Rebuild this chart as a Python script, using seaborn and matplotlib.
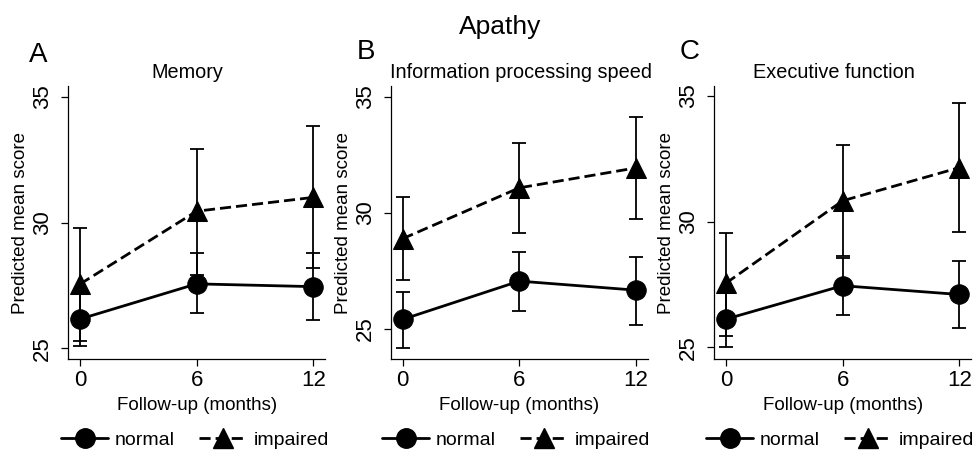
import matplotlib
matplotlib.use("Agg")
import matplotlib.pyplot as plt
import seaborn as sns
import pandas as pd
import numpy as np
from matplotlib.lines import Line2D

sns.set_theme(style="ticks")
plt.rcParams['font.family'] = ['Liberation Sans', 'DejaVu Sans']
plt.rcParams['text.color'] = 'black'
plt.rcParams['axes.labelcolor'] = 'black'
plt.rcParams['xtick.color'] = 'black'
plt.rcParams['ytick.color'] = 'black'

months = [0, 6, 12]
groups = ["normal", "impaired"]
panel_titles = ["Memory", "Information processing speed", "Executive function"]
panel_letters = ["A", "B", "C"]
main_title = "Apathy"
xlabel = "Follow-up (months)"
ylabel = "Predicted mean score"

# Memory
mem_normal = [26.16, 27.56, 27.45]
mem_normal_lo = [25.07, 26.39, 26.13]
mem_normal_hi = [27.25, 28.78, 28.78]
mem_impaired = [27.55, 30.45, 31.0]
mem_impaired_lo = [25.30, 27.92, 28.18]
mem_impaired_hi = [29.80, 32.93, 33.82]

# Information processing speed
ips_normal = [25.40, 27.05, 26.66]
ips_normal_lo = [24.18, 25.76, 25.16]
ips_normal_hi = [26.58, 28.32, 28.08]
ips_impaired = [28.88, 31.07, 31.93]
ips_impaired_lo = [27.08, 29.13, 29.73]
ips_impaired_hi = [30.67, 33.02, 34.13]

# Executive function
exe_normal = [26.12, 27.45, 27.10]
exe_normal_lo = [25.00, 26.29, 25.78]
exe_normal_hi = [27.25, 28.55, 28.42]
exe_impaired = [27.55, 30.83, 32.15]
exe_impaired_lo = [25.45, 28.64, 29.57]
exe_impaired_hi = [29.55, 33.05, 34.73]

panels = [
    (mem_normal, mem_normal_lo, mem_normal_hi, mem_impaired, mem_impaired_lo, mem_impaired_hi),
    (ips_normal, ips_normal_lo, ips_normal_hi, ips_impaired, ips_impaired_lo, ips_impaired_hi),
    (exe_normal, exe_normal_lo, exe_normal_hi, exe_impaired, exe_impaired_lo, exe_impaired_hi),
]
ylims = [(24.56, 35.43), (23.68, 35.46), (24.52, 35.40)]

W, H = 974, 450
fig = plt.figure(figsize=(W / 100, H / 100), dpi=100)
fig.patch.set_facecolor("white")

ax_lefts = [68.3, 391.0, 714.3]
ax_w = 256.6
ax_top, ax_bot = 86.0, 359.3
title_x = [187.5, 520.5, 834.0]
letter_xy = [(38, 55), (366, 52), (690, 52)]
legend_cx = [195, 516, 840]

dash_pat = (4.0, 1.8)

for i, (pn, pnl, pnh, pi, pil, pih) in enumerate(panels):
    ax = fig.add_axes([ax_lefts[i] / W, 1 - ax_bot / H, ax_w / W, (ax_bot - ax_top) / H])
    ax.set_facecolor("white")
    df = pd.DataFrame({
        "month": months * 2,
        "score": pn + pi,
        "lo": pnl + pil,
        "hi": pnh + pih,
        "group": ["normal"] * 3 + ["impaired"] * 3,
    })
    for g in groups:
        sub = df[df.group == g]
        ax.errorbar(sub["month"], sub["score"],
                    yerr=[sub["score"] - sub["lo"], sub["hi"] - sub["score"]],
                    fmt="none", ecolor="black", elinewidth=1.3, capsize=4.8,
                    capthick=1.3, zorder=2)
    sns.lineplot(data=df, x="month", y="score", style="group",
                 style_order=groups,
                 markers={"normal": "o", "impaired": "^"},
                 dashes={"normal": "", "impaired": dash_pat},
                 color="black", linewidth=2.0, markersize=14,
                 markeredgecolor="black", legend=False, ax=ax, zorder=3)
    ax.set_xlim(-0.6, 12.6)
    ax.set_ylim(*ylims[i])
    ax.set_xticks(months)
    ax.set_yticks([25, 30, 35])
    ax.set_xlabel(xlabel, fontsize=13.5, labelpad=4)
    ax.set_ylabel(ylabel, fontsize=13.5, labelpad=2)
    for s in ["top", "right"]:
        ax.spines[s].set_visible(False)
    for s in ["left", "bottom"]:
        ax.spines[s].set_linewidth(0.9)
        ax.spines[s].set_color("black")
    ax.tick_params(axis="both", direction="out", length=5, width=0.9,
                   colors="black", labelsize=16)
    ax.tick_params(axis="y", pad=6)
    ax.tick_params(axis="x", pad=3)
    for lab in ax.get_yticklabels():
        lab.set_rotation(90)
        lab.set_va("center")
        lab.set_ha("right")
    ax.grid(False)

    fig.text(title_x[i] / W, 1 - 72 / H, panel_titles[i], fontsize=14.3,
             ha="center", va="center")
    lx, ly = letter_xy[i]
    fig.text(lx / W, 1 - ly / H, panel_letters[i], fontsize=20,
             ha="center", va="center")

    handles = [
        Line2D([], [], color="black", linewidth=2.0, marker="o", markersize=14),
        Line2D([], [], color="black", linewidth=2.0, marker="^", markersize=14,
               dashes=dash_pat),
    ]
    fig.legend(handles, groups, loc="center",
               bbox_to_anchor=(legend_cx[i] / W, 1 - 440 / H), ncol=2,
               frameon=False, fontsize=14, handlelength=2.45,
               handletextpad=0.35, columnspacing=1.25, borderpad=0.1)

fig.text(500 / W, 1 - 27 / H, main_title, fontsize=19, ha="center", va="center")

fig.savefig("out.png", dpi=100, facecolor="white")
